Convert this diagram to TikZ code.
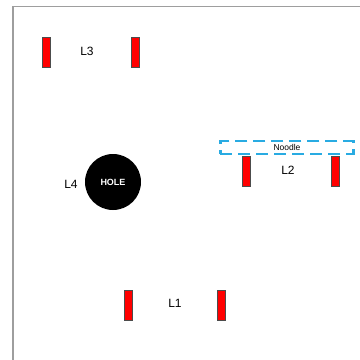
\documentclass[tikz,border=0pt]{standalone}
\usepackage{fontspec}
\setmainfont{Liberation Sans}
\usetikzlibrary{positioning}
\definecolor{postred}{HTML}{FF0000}
\definecolor{noodleblue}{HTML}{29ABE2}
\begin{document}
\begin{tikzpicture}[x=1pt,y=-1pt,
post/.style={draw=black!70,fill=postred,line width=0.8pt,minimum width=8pt,minimum height=30pt,inner sep=0pt},
lane/.style={font=\fontsize{12}{14}\selectfont,inner sep=0pt},
noodle/.style={draw=noodleblue,line width=2.4pt,dash pattern=on 12pt off 6pt,minimum width=133pt,minimum height=13pt,inner sep=0pt,font=\fontsize{8.5}{9}\selectfont},
hole/.style={circle,fill=black,minimum size=56pt,inner sep=0pt,text=white,font=\bfseries\fontsize{9}{10}\selectfont},
frame/.style={draw=black!38,line width=1.6pt}]
\useasboundingbox (0,0) rectangle (360,360);
\draw[frame] (13,361) -- (13,6.5) -- (361,6.5);
% L3
\node[post] (l3a) at (46,52) {};
\node[post] (l3b) at (135,52) {};
\node[lane] (l3) at (87,51) {L3};
% L2 with noodle
\node[noodle] (noodle) at (287,147.5) {Noodle};
\node[post] (l2a) at (246.5,171) {};
\node[post] (l2b) at (335.5,171) {};
\node[lane] (l2) at (288,170) {L2};
% L4
\node[hole] (hole) at (113,182) {HOLE};
\node[lane] (l4) at (71,184) {L4};
% L1
\node[post] (l1a) at (128,305) {};
\node[post] (l1b) at (221,305) {};
\node[lane] (l1) at (175,303) {L1};
\end{tikzpicture}
\end{document}
